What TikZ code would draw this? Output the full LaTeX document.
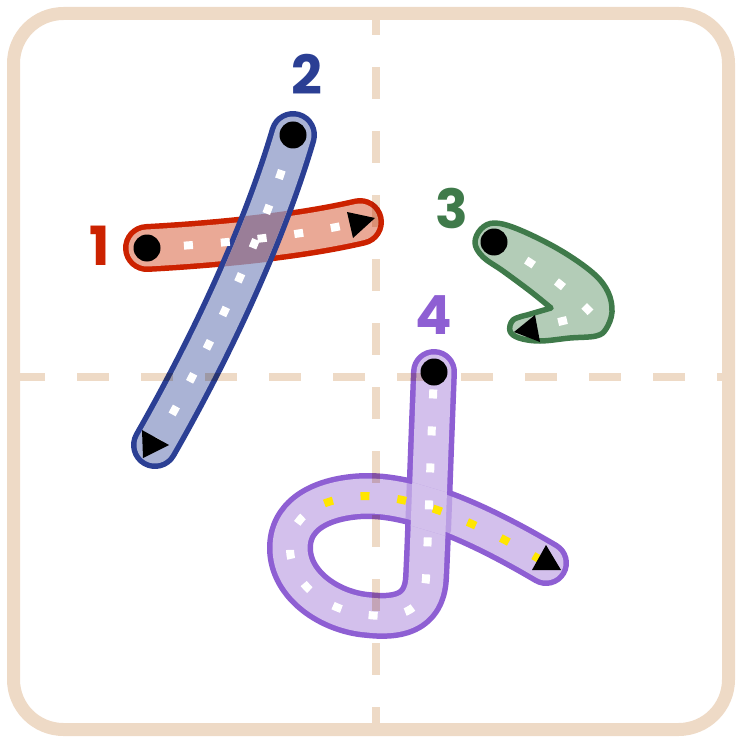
\documentclass[tikz,border=0pt]{standalone}
\usepackage{fontspec}
\setmainfont{Poppins}
\usetikzlibrary{calc}

\definecolor{guide}{RGB}{238,218,198}
\definecolor{redline}{RGB}{204,34,0}
\definecolor{redfill}{RGB}{234,169,150}
\definecolor{blueline}{RGB}{43,63,148}
\definecolor{bluefill}{RGB}{170,179,213}
\definecolor{crossfill}{RGB}{154,126,152}
\definecolor{greenline}{RGB}{63,122,74}
\definecolor{greenfill}{RGB}{179,204,183}
\definecolor{purpleline}{RGB}{142,95,211}
\definecolor{purplefill}{RGB}{211,192,236}
\definecolor{dashyellow}{RGB}{255,230,0}

% stroke centre lines (pixel units, y pointing down)
\newcommand{\strokeone}{(147,248) .. controls (220,244) and (300,236) .. (360,222)}
\newcommand{\stroketwo}{(293,135) .. controls (265,230) and (215,340) .. (155,445)}
\newcommand{\strokethree}{(494,242) .. controls (530,260) and (565,285) .. (592,314) -- (525,330)}
\newcommand{\strokefourA}{(434,372) .. controls (430,470) and (428,540) .. (426,578)
  .. controls (424,615) and (395,618) .. (368,615)
  .. controls (330,612) and (290,585) .. (290,548)
  .. controls (290,529) and (300,516.25) .. (314.4,508.1)}
\newcommand{\strokefourB}{(314.4,508.1) .. controls (328.75,500) and (347.5,496.5) .. (365,496)
  .. controls (420,495) and (490,530) .. (546,563)}

\begin{document}
\begin{tikzpicture}[x=1pt, y=-1pt,
  band/.style={line width=48pt, line cap=round, line join=round},
  inner/.style={line width=37pt, line cap=round, line join=round},
  trace/.style={white, line width=8pt, dash pattern=on 9pt off 28pt},
  guideline/.style={guide, line width=8pt, dash pattern=on 32pt off 32pt, blend mode=multiply},
  startdot/.style={black},
  num/.style={font=\fontsize{54}{54}\selectfont\bfseries, inner sep=0pt}
]
\useasboundingbox (0,0) rectangle (742,743);

% stroke 1
\draw[band, redline] \strokeone;
\draw[inner, redfill] \strokeone;

% stroke 2
\draw[band, blueline] \stroketwo;
\draw[inner, bluefill] \stroketwo;

% where stroke 2 lies over stroke 1
\begin{scope}
  \clip (309.9,142.5) .. controls (281.9,237.5) and (231.9,347.5) .. (171.9,452.5)
     -- (138.1,437.5) .. controls (198.1,332.5) and (248.1,222.5) .. (276.1,127.5) -- cycle;
  \draw[band, crossfill] \strokeone;
\end{scope}

% stroke 3
\filldraw[greenline, fill=greenfill, line width=5.5pt, line join=round]
  plot[smooth, tension=0.6] coordinates {(551,308) (530,291) (503,271) (483,257)
    (475,243) (481,229) (495,223) (520,230) (560,250) (593,273) (608,292)
    (612,312) (606,329) (596,336) (570,338) (540,341) (519,338) (510,331)
    (513,320) (527,315)} -- cycle;

% stroke 4
\draw[band, line width=46pt, purpleline] \strokefourA \strokefourB;
\draw[inner, line width=35pt, purplefill] \strokefourA \strokefourB;
\begin{scope}
  \clip (396.6,477.6) -- (461.1,496.7) -- (449.1,536.9) -- (384.6,517.8) -- cycle;
  \draw[purpleline, line width=46pt, opacity=0.35] (434,372) .. controls (430,470) and (428,540) .. (426,578);
  \draw[purplefill, line width=35pt] (434,372) .. controls (430,470) and (428,540) .. (426,578);
\end{scope}

% dashed traces
\draw[trace] \strokeone;
\draw[trace] \stroketwo;
\draw[trace] \strokethree;
\draw[trace, dash phase=19.5pt] \strokefourA;
\draw[trace, dashyellow, dash phase=26pt] \strokefourB;

% start dots
\coordinate (s1) at (147,248);
\coordinate (s2) at (293,135);
\coordinate (s3) at (494,242);
\coordinate (s4) at (434,372);
\foreach \s in {s1,s2,s3,s4}
  \fill[startdot] (\s) circle[radius=13.5];

% end arrows
\fill (347,212) -- (375,218) -- (353,238) -- cycle;
\fill (142,430) -- (169,445) -- (143,458) -- cycle;
\fill (514,332) -- (535,315) -- (540,342) -- cycle;
\fill (546,545) -- (561,570) -- (532,570) -- cycle;

% guide lines and frame
\draw[guideline, dash phase=17pt] (376,20) -- (376,723);
\draw[guideline, dash phase=7pt] (20,376.5) -- (722,376.5);
\draw[guide, line width=13pt, rounded corners=50pt] (13.5,13.5) rectangle (728.5,729.5);

% stroke numbers
\node[num, redline] (lab1) at (100,246) {1};
\node[num, blueline] (lab2) at (307,74) {2};
\node[num, greenline] (lab3) at (452,208) {3};
\node[num, purpleline] (lab4) at (434,315) {4};
\end{tikzpicture}
\end{document}
